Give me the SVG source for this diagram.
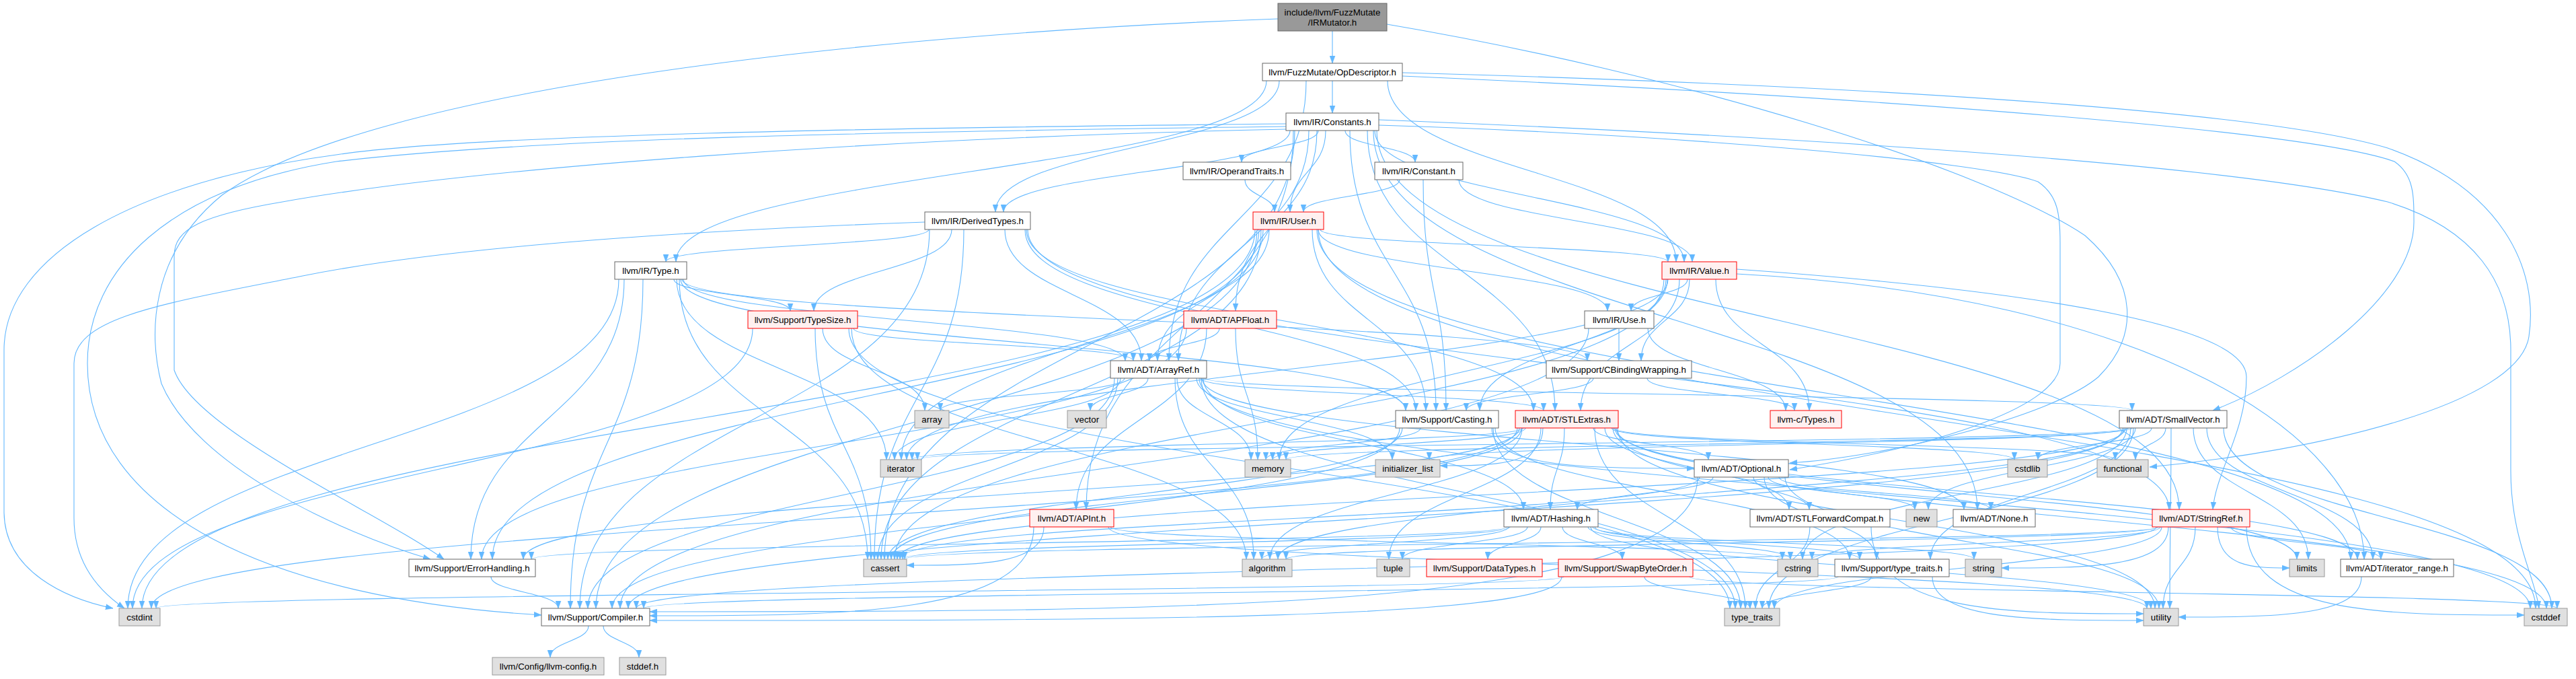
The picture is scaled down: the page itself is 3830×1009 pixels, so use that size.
<svg xmlns="http://www.w3.org/2000/svg" width="3830" height="1009" viewBox="0 0 3830 1009">
<defs>
<style>
.e path{fill:none;stroke:#63b8ff;stroke-width:1.1;marker-end:url(#a)}
.n rect{fill:#fff;stroke:#666;stroke-width:1}
.r rect{fill:#fff0f0;stroke:#f00;stroke-width:1}
.g rect{fill:#e0e0e0;stroke:#999;stroke-width:1}
.root rect{fill:#999;stroke:#666;stroke-width:1}
text{font-family:"Liberation Sans",Arial,Helvetica,sans-serif;font-size:13.33px;text-anchor:middle;fill:#000}
</style>
<marker id="a" markerWidth="11" markerHeight="9" refX="11" refY="4.5" orient="auto" markerUnits="userSpaceOnUse"><path d="M0,0.5 L11,4.5 L0,8.5 z" fill="#63b8ff" stroke="#63b8ff" stroke-width="0.5"/></marker>
</defs>
<rect width="3830" height="1009" fill="#fff"/>
<g id="edges" class="e">
<path d="M1981 46 C1981 70 1981 70 1981 94"/>
<path d="M2062 36 C2500 110 2950 250 3100 350 C3180 420 3180 500 3120 560 C3050 620 2800 680 2661 688"/>
<path d="M1900 28 C1300 50 550 130 330 290 C220 380 222 500 240 570 C290 690 500 790 640 831"/>
<path d="M1981 120 C1981 144 1981 144 1981 168"/>
<path d="M1902 120 C1902 218 1480 218 1480 315"/>
<path d="M1883 120 C1883 255 1005 255 1005 389"/>
<path d="M2063 120 C2063 255 2492 255 2492 389"/>
<path d="M1942 120 C1942 328 1738 328 1738 536"/>
<path d="M2085 113 C2700 140 3420 190 3560 240 C3589 260 3589 290 3589 330 C3589 440 3420 560 3290 610"/>
<path d="M2085 108 C2700 125 3350 160 3550 220 C3720 280 3775 400 3760 500 C3745 600 3450 670 3196 694"/>
<path d="M1960 194 C1960 218 1846 218 1846 241"/>
<path d="M2000 194 C2000 218 2104 218 2104 241"/>
<path d="M1918 194 C1918 255 1492 255 1492 315"/>
<path d="M1971 194 C1971 255 1918 255 1918 315"/>
<path d="M2044 194 C2044 292 2504 292 2504 389"/>
<path d="M1958 194 C1958 328 1837 328 1837 462"/>
<path d="M1923 194 C1923 476 1615 476 1615 757"/>
<path d="M1946 194 C1946 365 1752 365 1752 536"/>
<path d="M2033 194 C2033 402 2312 402 2312 610"/>
<path d="M2047 194 C2047 476 3240 476 3240 757"/>
<path d="M2007 194 C2007 402 2135 402 2135 610"/>
<path d="M1912 188 C1300 196 800 205 500 240 C250 280 130 400 130 540 C130 760 400 890 805 914"/>
<path d="M1912 192 C1300 205 700 250 420 300 C300 320 259 340 259 380 L259 550 C290 640 560 760 660 831"/>
<path d="M1925 194 C1925 512 1315 512 1315 831"/>
<path d="M2050 178 C2600 200 3300 240 3550 300 C3680 340 3733 420 3733 520 L3733 700 C3733 800 3770 860 3775 904"/>
<path d="M1912 184 C1300 190 700 200 500 230 C200 270 6 380 6 520 L6 760 C6 850 100 890 168 904"/>
<path d="M2050 186 C2500 200 2950 240 3030 270 C3060 290 3063 320 3063 360 L3063 540 C3063 600 2900 660 2661 698"/>
<path d="M2042 194 C2042 476 2940 476 2940 757"/>
<path d="M1851 267 C1851 291 1895 291 1895 315"/>
<path d="M2081 267 C2081 291 1938 291 1938 315"/>
<path d="M2169 267 C2169 328 2516 328 2516 389"/>
<path d="M2116 267 C2116 438 2150 438 2150 610"/>
<path d="M1381 341 C1381 365 990 365 990 389"/>
<path d="M1415 341 C1415 402 1210 402 1210 462"/>
<path d="M1494 341 C1494 438 1697 438 1697 536"/>
<path d="M1526 341 C1526 476 2280 476 2280 610"/>
<path d="M1528 341 C1528 549 3225 549 3225 757"/>
<path d="M1524 341 C1524 476 2105 476 2105 610"/>
<path d="M1382 341 C1382 622 862 622 862 904"/>
<path d="M1433 341 C1433 586 1300 586 1300 831"/>
<path d="M1375 330 C1100 340 700 360 450 410 C250 450 110 470 110 540 L110 770 C110 840 150 880 185 904"/>
<path d="M1963 341 C1963 365 2480 365 2480 389"/>
<path d="M1960 341 C1960 402 2390 402 2390 462"/>
<path d="M1887 341 C1887 438 1721 438 1721 536"/>
<path d="M1958 341 C1958 586 3495 586 3495 831"/>
<path d="M1951 341 C1951 476 2120 476 2120 610"/>
<path d="M1869 341 C1869 622 886 622 886 904"/>
<path d="M1872 341 C1872 586 732 586 732 831"/>
<path d="M1875 341 C1875 586 1310 586 1310 831"/>
<path d="M1960 341 C1960 622 3770 622 3770 904"/>
<path d="M1866 341 C1866 622 211 622 211 904"/>
<path d="M1878 341 C1878 512 1340 512 1340 683"/>
<path d="M1002 415 C1002 438 1175 438 1175 462"/>
<path d="M1016 415 C1016 476 1673 476 1673 536"/>
<path d="M1014 415 C1014 476 2360 476 2360 536"/>
<path d="M1012 415 C1012 512 2090 512 2090 610"/>
<path d="M956 415 C956 660 848 660 848 904"/>
<path d="M928 415 C928 623 700 623 700 831"/>
<path d="M1010 415 C1010 623 1290 623 1290 831"/>
<path d="M920 415 C920 660 190 660 190 904"/>
<path d="M1006 415 C1006 549 1318 549 1318 683"/>
<path d="M2509 415 C2509 438 2425 438 2425 462"/>
<path d="M2551 415 C2551 512 2690 512 2690 610"/>
<path d="M2497 415 C2497 512 2350 512 2350 610"/>
<path d="M2582 400 C3000 430 3340 480 3340 560 C3340 640 3295 700 3290 757"/>
<path d="M2582 407 C3200 440 3515 650 3515 831"/>
<path d="M2512 415 C2512 476 2440 476 2440 536"/>
<path d="M2477 415 C2477 512 2200 512 2200 610"/>
<path d="M2474 415 C2474 623 1330 623 1330 831"/>
<path d="M2480 415 C2480 549 1348 549 1348 683"/>
<path d="M2479 415 C2479 549 1902 549 1902 683"/>
<path d="M1269 488 C1269 512 1685 512 1685 536"/>
<path d="M1266 488 C1266 660 1853 660 1853 831"/>
<path d="M1223 488 C1223 549 1375 549 1375 610"/>
<path d="M1212 488 C1212 660 1295 660 1295 831"/>
<path d="M1119 488 C1119 696 197 696 197 904"/>
<path d="M1262 488 C1262 696 2572 696 2572 904"/>
<path d="M1794 488 C1794 622 1600 622 1600 757"/>
<path d="M1813 488 C1813 512 1709 512 1709 536"/>
<path d="M1764 488 C1764 660 716 660 716 831"/>
<path d="M1837 488 C1837 586 1870 586 1870 683"/>
<path d="M2450 488 C2450 549 2655 549 2655 610"/>
<path d="M2407 488 C2407 512 2407 512 2407 536"/>
<path d="M2362 488 C2362 696 922 696 922 904"/>
<path d="M1789 562 C1789 660 2265 660 2265 757"/>
<path d="M1787 562 C1787 660 2920 660 2920 757"/>
<path d="M1791 562 C1791 586 3170 586 3170 610"/>
<path d="M1785 562 C1785 586 2295 586 2295 610"/>
<path d="M1657 562 C1657 733 874 733 874 904"/>
<path d="M1747 562 C1747 696 1864 696 1864 831"/>
<path d="M1672 562 C1672 586 1398 586 1398 610"/>
<path d="M1662 562 C1662 696 1305 696 1305 831"/>
<path d="M1783 562 C1783 733 3762 733 3762 904"/>
<path d="M1779 562 C1779 622 2070 622 2070 683"/>
<path d="M1666 562 C1666 622 1330 622 1330 683"/>
<path d="M1750 562 C1750 622 1860 622 1860 683"/>
<path d="M1786 562 C1786 733 2580 733 2580 904"/>
<path d="M1707 562 C1707 586 1621 586 1621 610"/>
<path d="M2449 562 C2449 586 2668 586 2668 610"/>
<path d="M2369 562 C2369 586 2180 586 2180 610"/>
<path d="M2218 636 C2218 696 2368 696 2519 696"/>
<path d="M2081 636 C2081 770 910 770 910 904"/>
<path d="M2223 636 C2223 733 2750 733 2750 831"/>
<path d="M2085 636 C2085 733 1320 733 1320 831"/>
<path d="M2112 636 C2112 660 1882 660 1882 683"/>
<path d="M2220 636 C2220 770 2588 770 2588 904"/>
<path d="M2326 636 C2326 696 2305 696 2305 757"/>
<path d="M2369 636 C2369 660 2540 660 2540 683"/>
<path d="M2386 636 C2386 696 2660 696 2660 757"/>
<path d="M2401 636 C2401 733 3505 733 3505 831"/>
<path d="M2259 636 C2259 733 778 733 778 831"/>
<path d="M2263 636 C2263 733 1888 733 1888 831"/>
<path d="M2262 636 C2262 733 1325 733 1325 831"/>
<path d="M2398 636 C2398 770 3786 770 3786 904"/>
<path d="M2256 636 C2256 770 225 770 225 904"/>
<path d="M2396 636 C2396 660 2995 660 2995 683"/>
<path d="M2399 636 C2399 660 3145 660 3145 683"/>
<path d="M2294 636 C2294 692 2218 692 2141 692"/>
<path d="M2265 636 C2265 660 1356 660 1356 683"/>
<path d="M2403 636 C2403 733 3415 733 3415 831"/>
<path d="M2268 636 C2268 660 1892 660 1892 683"/>
<path d="M2291 636 C2291 733 2065 733 2065 831"/>
<path d="M2371 636 C2371 770 2595 770 2595 904"/>
<path d="M2405 636 C2405 770 3204 770 3204 904"/>
<path d="M3281 636 C3281 733 3528 733 3528 831"/>
<path d="M3156 636 C3156 770 934 770 934 904"/>
<path d="M3168 636 C3168 733 2870 733 2870 831"/>
<path d="M3158 636 C3158 733 1900 733 1900 831"/>
<path d="M3160 636 C3160 733 1334 733 1334 831"/>
<path d="M3306 636 C3306 770 3794 770 3794 904"/>
<path d="M3199 636 C3199 660 3030 660 3030 683"/>
<path d="M3162 636 C3162 733 2680 733 2680 831"/>
<path d="M3220 636 C3220 660 3175 660 3175 683"/>
<path d="M3164 636 C3164 660 2125 660 2125 683"/>
<path d="M3166 636 C3166 660 1364 660 1364 683"/>
<path d="M3261 636 C3261 733 3432 733 3432 831"/>
<path d="M3170 636 C3170 660 1912 660 1912 683"/>
<path d="M3175 636 C3175 696 2867 696 2867 757"/>
<path d="M3172 636 C3172 770 2630 770 2630 904"/>
<path d="M3228 636 C3228 770 3226 770 3226 904"/>
<path d="M2547 709 C2547 733 2345 733 2345 757"/>
<path d="M2645 709 C2645 733 2960 733 2960 757"/>
<path d="M2607 709 C2607 733 2690 733 2690 757"/>
<path d="M2524 709 C2524 909 1745 909 966 909"/>
<path d="M2623 709 C2623 770 2790 770 2790 831"/>
<path d="M2527 709 C2527 770 1338 770 1338 831"/>
<path d="M2629 709 C2629 733 2847 733 2847 757"/>
<path d="M2654 709 C2654 806 3210 806 3210 904"/>
<path d="M1537 783 C1537 915 1252 915 966 915"/>
<path d="M1552 783 C1552 840 1450 840 1348 840"/>
<path d="M1651 783 C1651 807 2650 807 2650 831"/>
<path d="M1648 783 C1648 843 3192 843 3192 904"/>
<path d="M2291 783 C2291 807 2212 807 2212 831"/>
<path d="M2241 783 C2241 807 790 807 790 831"/>
<path d="M2323 783 C2323 807 2412 807 2412 831"/>
<path d="M2371 783 C2371 807 2765 807 2765 831"/>
<path d="M2243 783 C2243 807 1876 807 1876 831"/>
<path d="M2245 783 C2245 807 1342 807 1342 831"/>
<path d="M2361 783 C2361 807 2662 807 2662 831"/>
<path d="M2368 783 C2368 807 2935 807 2935 831"/>
<path d="M2271 783 C2271 807 2085 807 2085 831"/>
<path d="M2365 783 C2365 843 3198 843 3198 904"/>
<path d="M2691 783 C2691 843 2610 843 2610 904"/>
<path d="M2782 783 C2782 912 2985 912 3187 912"/>
<path d="M3317 783 C3317 807 3540 807 3540 831"/>
<path d="M3206 783 C3206 843 946 843 946 904"/>
<path d="M3208 783 C3208 807 1912 807 1912 831"/>
<path d="M3210 783 C3210 807 1345 807 1345 831"/>
<path d="M3340 783 C3340 914 3547 914 3753 914"/>
<path d="M3212 783 C3212 807 2694 807 2694 831"/>
<path d="M3297 783 C3297 844 3351 844 3404 844"/>
<path d="M3224 783 C3224 844 3100 844 2976 844"/>
<path d="M3214 783 C3214 843 2638 843 2638 904"/>
<path d="M3264 783 C3264 843 3216 843 3216 904"/>
<path d="M730 857 C730 880 830 880 830 904"/>
<path d="M2322 857 C2322 922 1644 922 966 922"/>
<path d="M2512 857 C2512 880 3802 880 3802 904"/>
<path d="M2325 857 C2325 880 232 880 232 904"/>
<path d="M2445 857 C2445 880 2602 880 2602 904"/>
<path d="M2733 857 C2733 880 957 880 957 904"/>
<path d="M2782 857 C2782 880 2620 880 2620 904"/>
<path d="M2873 857 C2873 922 3030 922 3187 922"/>
<path d="M3511 857 C3511 917 3375 917 3239 917"/>
<path d="M875 930 C875 953 818 953 818 977"/>
<path d="M897 930 C897 953 950 953 950 977"/>
</g>
<g id="n_root" class="root"><rect x="1900" y="5" width="162" height="41"/><text x="1981" y="23">include/llvm/FuzzMutate</text><text x="1981" y="38">/IRMutator.h</text></g>
<g id="n_opdesc" class="n"><rect x="1877" y="94" width="208" height="26"/><text x="1981" y="112">llvm/FuzzMutate/OpDescriptor.h</text></g>
<g id="n_constants" class="n"><rect x="1912" y="168" width="138" height="26"/><text x="1981" y="186">llvm/IR/Constants.h</text></g>
<g id="n_operandtraits" class="n"><rect x="1759" y="241" width="160" height="26"/><text x="1839" y="259">llvm/IR/OperandTraits.h</text></g>
<g id="n_constant" class="n"><rect x="2044" y="241" width="131" height="26"/><text x="2109.5" y="259">llvm/IR/Constant.h</text></g>
<g id="n_derivedtypes" class="n"><rect x="1375" y="315" width="157" height="26"/><text x="1453.5" y="333">llvm/IR/DerivedTypes.h</text></g>
<g id="n_user" class="r"><rect x="1863" y="315" width="105" height="26"/><text x="1915.5" y="333">llvm/IR/User.h</text></g>
<g id="n_type" class="n"><rect x="914" y="389" width="107" height="26"/><text x="967.5" y="407">llvm/IR/Type.h</text></g>
<g id="n_value" class="r"><rect x="2471" y="389" width="111" height="26"/><text x="2526.5" y="407">llvm/IR/Value.h</text></g>
<g id="n_typesize" class="r"><rect x="1112" y="462" width="163" height="26"/><text x="1193.5" y="480">llvm/Support/TypeSize.h</text></g>
<g id="n_apfloat" class="r"><rect x="1760" y="462" width="138" height="26"/><text x="1829" y="480">llvm/ADT/APFloat.h</text></g>
<g id="n_use" class="n"><rect x="2356" y="462" width="103" height="26"/><text x="2407.5" y="480">llvm/IR/Use.h</text></g>
<g id="n_arrayref" class="n"><rect x="1651" y="536" width="143" height="26"/><text x="1722.5" y="554">llvm/ADT/ArrayRef.h</text></g>
<g id="n_cbinding" class="n"><rect x="2299" y="536" width="216" height="26"/><text x="2407" y="554">llvm/Support/CBindingWrapping.h</text></g>
<g id="n_array" class="g"><rect x="1360" y="610" width="51" height="26"/><text x="1385.5" y="628">array</text></g>
<g id="n_vector" class="g"><rect x="1587" y="610" width="58" height="26"/><text x="1616" y="628">vector</text></g>
<g id="n_casting" class="n"><rect x="2075" y="610" width="153" height="26"/><text x="2151.5" y="628">llvm/Support/Casting.h</text></g>
<g id="n_stlextras" class="r"><rect x="2253" y="610" width="153" height="26"/><text x="2329.5" y="628">llvm/ADT/STLExtras.h</text></g>
<g id="n_ctypes" class="r"><rect x="2632" y="610" width="106" height="26"/><text x="2685" y="628">llvm-c/Types.h</text></g>
<g id="n_smallvector" class="n"><rect x="3151" y="610" width="160" height="26"/><text x="3231" y="628">llvm/ADT/SmallVector.h</text></g>
<g id="n_iterator" class="g"><rect x="1309" y="683" width="61" height="26"/><text x="1339.5" y="701">iterator</text></g>
<g id="n_memory" class="g"><rect x="1851" y="683" width="68" height="26"/><text x="1885" y="701">memory</text></g>
<g id="n_initlist" class="g"><rect x="2045" y="683" width="96" height="26"/><text x="2093" y="701">initializer_list</text></g>
<g id="n_optional" class="n"><rect x="2519" y="683" width="140" height="26"/><text x="2589" y="701">llvm/ADT/Optional.h</text></g>
<g id="n_cstdlib" class="g"><rect x="2985" y="683" width="59" height="26"/><text x="3014.5" y="701">cstdlib</text></g>
<g id="n_functional" class="g"><rect x="3118" y="683" width="76" height="26"/><text x="3156" y="701">functional</text></g>
<g id="n_apint" class="r"><rect x="1531" y="757" width="125" height="26"/><text x="1593.5" y="775">llvm/ADT/APInt.h</text></g>
<g id="n_hashing" class="n"><rect x="2236" y="757" width="140" height="26"/><text x="2306" y="775">llvm/ADT/Hashing.h</text></g>
<g id="n_stlfwd" class="n"><rect x="2602" y="757" width="208" height="26"/><text x="2706" y="775">llvm/ADT/STLForwardCompat.h</text></g>
<g id="n_new" class="g"><rect x="2834" y="757" width="46" height="26"/><text x="2857" y="775">new</text></g>
<g id="n_none" class="n"><rect x="2904" y="757" width="122" height="26"/><text x="2965" y="775">llvm/ADT/None.h</text></g>
<g id="n_stringref" class="r"><rect x="3200" y="757" width="145" height="26"/><text x="3272.5" y="775">llvm/ADT/StringRef.h</text></g>
<g id="n_errorhandling" class="n"><rect x="608" y="831" width="188" height="26"/><text x="702" y="849">llvm/Support/ErrorHandling.h</text></g>
<g id="n_cassert" class="g"><rect x="1284" y="831" width="64" height="26"/><text x="1316" y="849">cassert</text></g>
<g id="n_algorithm" class="g"><rect x="1847" y="831" width="74" height="26"/><text x="1884" y="849">algorithm</text></g>
<g id="n_tuple" class="g"><rect x="2047" y="831" width="49" height="26"/><text x="2071.5" y="849">tuple</text></g>
<g id="n_datatypes" class="r"><rect x="2121" y="831" width="172" height="26"/><text x="2207" y="849">llvm/Support/DataTypes.h</text></g>
<g id="n_swapbyteorder" class="r"><rect x="2317" y="831" width="200" height="26"/><text x="2417" y="849">llvm/Support/SwapByteOrder.h</text></g>
<g id="n_cstring" class="g"><rect x="2643" y="831" width="60" height="26"/><text x="2673" y="849">cstring</text></g>
<g id="n_support_type_traits" class="n"><rect x="2728" y="831" width="170" height="26"/><text x="2813" y="849">llvm/Support/type_traits.h</text></g>
<g id="n_string" class="g"><rect x="2922" y="831" width="54" height="26"/><text x="2949" y="849">string</text></g>
<g id="n_limits" class="g"><rect x="3404" y="831" width="52" height="26"/><text x="3430" y="849">limits</text></g>
<g id="n_iterator_range" class="n"><rect x="3480" y="831" width="168" height="26"/><text x="3564" y="849">llvm/ADT/iterator_range.h</text></g>
<g id="n_cstdint" class="g"><rect x="177" y="904" width="61" height="26"/><text x="207.5" y="922">cstdint</text></g>
<g id="n_compiler" class="n"><rect x="805" y="904" width="161" height="26"/><text x="885.5" y="922">llvm/Support/Compiler.h</text></g>
<g id="n_type_traits" class="g"><rect x="2564" y="904" width="82" height="26"/><text x="2605" y="922">type_traits</text></g>
<g id="n_utility" class="g"><rect x="3187" y="904" width="52" height="26"/><text x="3213" y="922">utility</text></g>
<g id="n_cstddef" class="g"><rect x="3753" y="904" width="64" height="26"/><text x="3785" y="922">cstddef</text></g>
<g id="n_llvmconfig" class="g"><rect x="732" y="977" width="166" height="26"/><text x="815" y="995">llvm/Config/llvm-config.h</text></g>
<g id="n_stddef" class="g"><rect x="921" y="977" width="69" height="26"/><text x="955.5" y="995">stddef.h</text></g>
</svg>
